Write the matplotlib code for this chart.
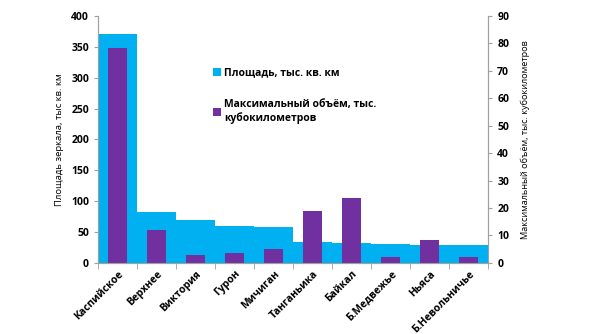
import matplotlib.pyplot as plt
import numpy as np
from matplotlib import rcParams

rcParams['font.family'] = ['Open Sans', 'DejaVu Sans']
rcParams['font.weight'] = 'bold'

lakes = ['Каспийское', 'Верхнее', 'Виктория', 'Гурон', 'Мичиган',
         'Танганьика', 'Байкал', 'Б.Медвежье', 'Ньяса', 'Б.Невольничье']
area = [371, 82.1, 68.9, 59.6, 58.0, 33.0, 31.5, 31.0, 29.6, 28.6]  # тыс. кв. км
volume = [78.2, 12.1, 2.7, 3.5, 4.9, 18.9, 23.6, 2.2, 8.4, 2.1]  # тыс. куб. км

blue = '#00b0f0'
purple = '#7030a0'
grey = '#a0a0a0'

fig = plt.figure(figsize=(5.91, 3.34), dpi=100)
ax = fig.add_axes([0.166, 0.213, 0.660, 0.739])
x = np.arange(len(lakes))

b1 = ax.bar(x, area, width=1.0, color=blue, zorder=1)
ax.set_ylim(0, 400)
ax.set_yticks(np.arange(0, 401, 50))
ax.set_xlim(-0.5, len(lakes) - 0.5)
ax.set_xticks(np.arange(len(lakes) + 1) - 0.5, minor=True)
ax.set_xticks(x)
ax.set_xticklabels(lakes, rotation=45, ha='right', rotation_mode='anchor', fontsize=7.5)
ax.tick_params(axis='x', which='major', length=0, pad=4)
ax.tick_params(axis='x', which='minor', length=4, color=grey)
ax.tick_params(axis='y', length=3, color=grey, labelsize=7.5)
ax.set_ylabel('Площадь зеркала, тыс кв. км', fontsize=6.8, labelpad=5)

ax2 = ax.twinx()
b2 = ax2.bar(x, volume, width=0.48, color=purple, zorder=2)
ax2.set_ylim(0, 90)
ax2.set_yticks(np.arange(0, 91, 10))
ax2.tick_params(axis='y', length=3, color=grey, labelsize=7.5)
ax2.set_ylabel('Максимальный объём, тыс. кубокилометров', fontsize=6.6, labelpad=8)

for a in [ax, ax2]:
    a.spines['top'].set_visible(False)
    a.spines['left'].set_color(grey)
    a.spines['right'].set_color(grey)
    a.spines['bottom'].set_color(grey)

ax2.legend([b1, b2], ['Площадь, тыс. кв. км', 'Максимальный объём, тыс.\nкубокилометров'],
           loc='upper left', bbox_to_anchor=(0.27, 0.83), frameon=False,
           fontsize=7.5, handlelength=0.8, handleheight=0.8, handletextpad=0.3,
           labelspacing=2.0)

fig.savefig('out.png', dpi=100)
